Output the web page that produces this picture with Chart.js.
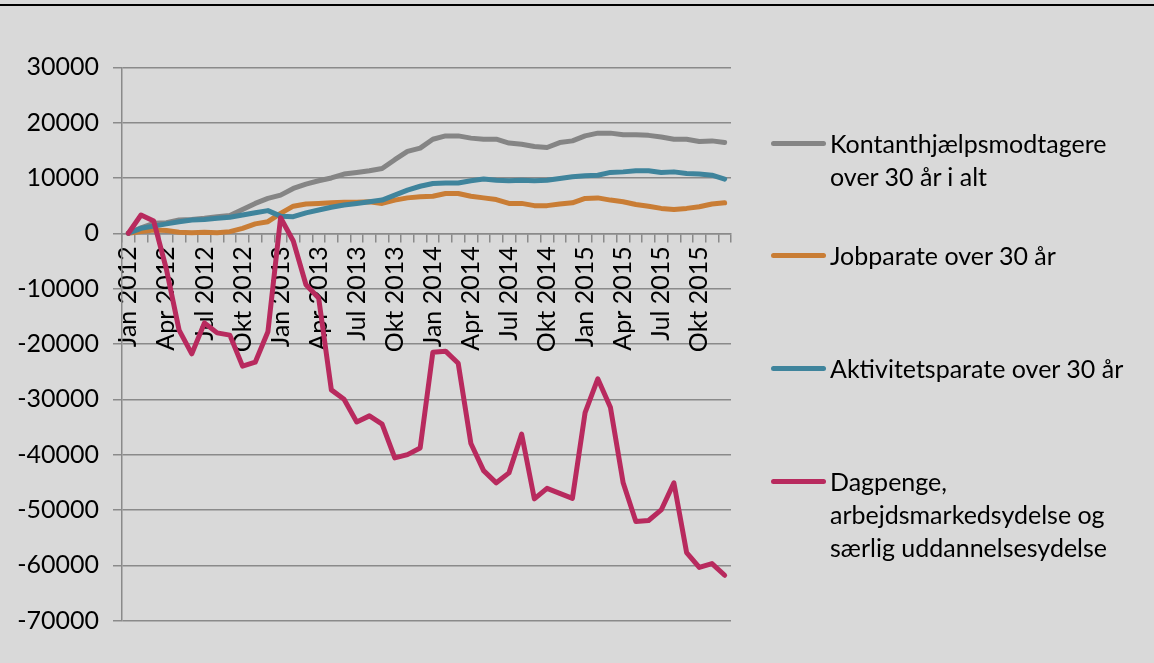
<!DOCTYPE html>
<html>
<head>
<meta charset="utf-8">
<script src="https://cdn.jsdelivr.net/npm/chart.js@4.4.1/dist/chart.umd.min.js"></script>
<style>
    html, body { margin: 0; padding: 0; background: #d9d9d9; }
    #wrap { position: relative; width: 1154px; height: 663px; overflow: hidden; }
    #topline { position: absolute; left: 0; top: 4px; width: 1154px; height: 2px; background: #000; }
    #chart { position: absolute; left: 0; top: 0; }
    .lg-item { position: absolute; left: 771px; font-family: Lato, sans-serif; font-size: 25px; line-height: 33px; color: #000; white-space: pre-line; }
    .lg-line { position: absolute; left: 0; top: 14px; width: 55px; height: 5px; border-radius: 2.5px; }
    .lg-text { margin-left: 59px; }
</style>
</head>
<body>
<div id="wrap">
    <canvas id="chart" width="1154" height="663"></canvas>
    <div id="topline"></div>
    <div id="legend"></div>
</div>
<script>
const months = ["Jan", "Feb", "Mar", "Apr", "Maj", "Jun", "Jul", "Aug", "Sep", "Okt", "Nov", "Dec"];
const years = ["2012", "2013", "2014", "2015"];
const categories = years.flatMap((y) => months.map((m) => m + " " + y));

const seriesNames = [
    "Kontanthjælpsmodtagere\nover 30 år i alt",
    "Jobparate over 30 år",
    "Aktivitetsparate over 30 år",
    "Dagpenge,\narbejdsmarkedsydelse og\nsærlig uddannelsesydelse",
];
const seriesColors = ["#858585", "#c97d35", "#3f849c", "#b82a5e"];

const kontanthjaelp = [
    0, 1000, 1800, 1900, 2400, 2500, 2700, 3000, 3200, 4300, 5400, 6300,
    6900, 8100, 8900, 9500, 10000, 10700, 11000, 11300, 11700, 13300, 14800, 15400,
    17000, 17600, 17600, 17200, 17000, 17000, 16300, 16100, 15700, 15500, 16400, 16700,
    17600, 18100, 18100, 17800, 17800, 17700, 17400, 17000, 17000, 16600, 16700, 16400,
];
const jobparate = [
    0, 300, 600, 500, 200, 100, 200, 100, 300, 900, 1700, 2100,
    3600, 4900, 5300, 5400, 5500, 5600, 5600, 5700, 5400, 6000, 6400, 6600,
    6700, 7200, 7200, 6700, 6400, 6100, 5400, 5400, 5000, 5000, 5300, 5500,
    6300, 6400, 6000, 5700, 5200, 4900, 4500, 4300, 4500, 4800, 5300, 5500,
];
const aktivitetsparate = [
    0, 900, 1300, 1700, 2100, 2400, 2500, 2700, 2900, 3300, 3700, 4100,
    3100, 3000, 3700, 4200, 4700, 5100, 5400, 5700, 6000, 6900, 7800, 8500,
    9000, 9100, 9100, 9500, 9800, 9600, 9500, 9600, 9500, 9600, 9900, 10200,
    10400, 10500, 11000, 11100, 11300, 11300, 11000, 11100, 10800, 10700, 10500, 9800,
];
const dagpenge = [
    0, 3300, 2200, -6500, -17500, -21800, -16200, -18000, -18400, -24000, -23300, -17800,
    2800, -1400, -9300, -11700, -28300, -30000, -34100, -33000, -34500, -40600, -40000, -38800,
    -21500, -21300, -23500, -38000, -42900, -45100, -43300, -36300, -48000, -46100, -47000, -47900,
    -32400, -26300, -31500, -45100, -52100, -51900, -50000, -45100, -57700, -60400, -59700, -61800,
];

const seriesData = [kontanthjaelp, jobparate, aktivitetsparate, dagpenge];

const yMin = -70000;
const yMax = 30000;
const yStep = 10000;

const tickFont = { family: "Lato", size: 25 };
const gridColor = "#8a8a8a";

// legend as html, one block per series
const legendTops = [126.8, 239.2, 351.8, 464.5];
const legendEl = document.getElementById("legend");
seriesNames.forEach((name, i) => {
    const item = document.createElement("div");
    item.className = "lg-item";
    item.style.top = legendTops[i] + "px";
    const line = document.createElement("div");
    line.className = "lg-line";
    line.style.background = seriesColors[i];
    const text = document.createElement("div");
    text.className = "lg-text";
    text.textContent = name;
    item.appendChild(line);
    item.appendChild(text);
    legendEl.appendChild(item);
});

const ctx = document.getElementById("chart").getContext("2d");

new Chart(ctx, {
    type: "line",
    data: {
        labels: categories,
        datasets: seriesData.map((data, i) => ({
            label: seriesNames[i].replace(/\n/g, " "),
            data,
            borderColor: seriesColors[i],
            backgroundColor: seriesColors[i],
            borderWidth: 5,
            borderCapStyle: "round",
            borderJoinStyle: "round",
            pointRadius: 0,
            tension: 0,
            fill: false,
            order: seriesData.length - i,
        })),
    },
    options: {
        responsive: false,
        animation: false,
        devicePixelRatio: 1,
        layout: { padding: { left: 0, top: 67.3, right: 423, bottom: 42.4 } },
        plugins: {
            legend: { display: false },
            tooltip: { enabled: false },
        },
        scales: {
            x: {
                position: { y: 0 },
                offset: true,
                grid: {
                    offset: true,
                    drawOnChartArea: false,
                    drawTicks: true,
                    tickLength: 8,
                    color: gridColor,
                    lineWidth: 1.5,
                },
                border: { display: true, color: gridColor, width: 1.5 },
                ticks: {
                    autoSkip: false,
                    minRotation: 90,
                    maxRotation: 90,
                    padding: 5,
                    color: "#000",
                    font: tickFont,
                    callback: function (value, index) {
                        return index % 3 === 0 ? this.getLabelForValue(value) : "";
                    },
                },
            },
            y: {
                min: yMin,
                max: yMax,
                afterFit: (scale) => {
                    scale.width = 122;
                },
                grid: {
                    color: gridColor,
                    lineWidth: 1.5,
                    tickLength: 9,
                },
                border: { display: true, color: gridColor, width: 1.5 },
                ticks: {
                    stepSize: yStep,
                    padding: 14,
                    color: "#000",
                    font: tickFont,
                    callback: (v) => String(v),
                },
            },
        },
    },
});
</script>
</body>
</html>
